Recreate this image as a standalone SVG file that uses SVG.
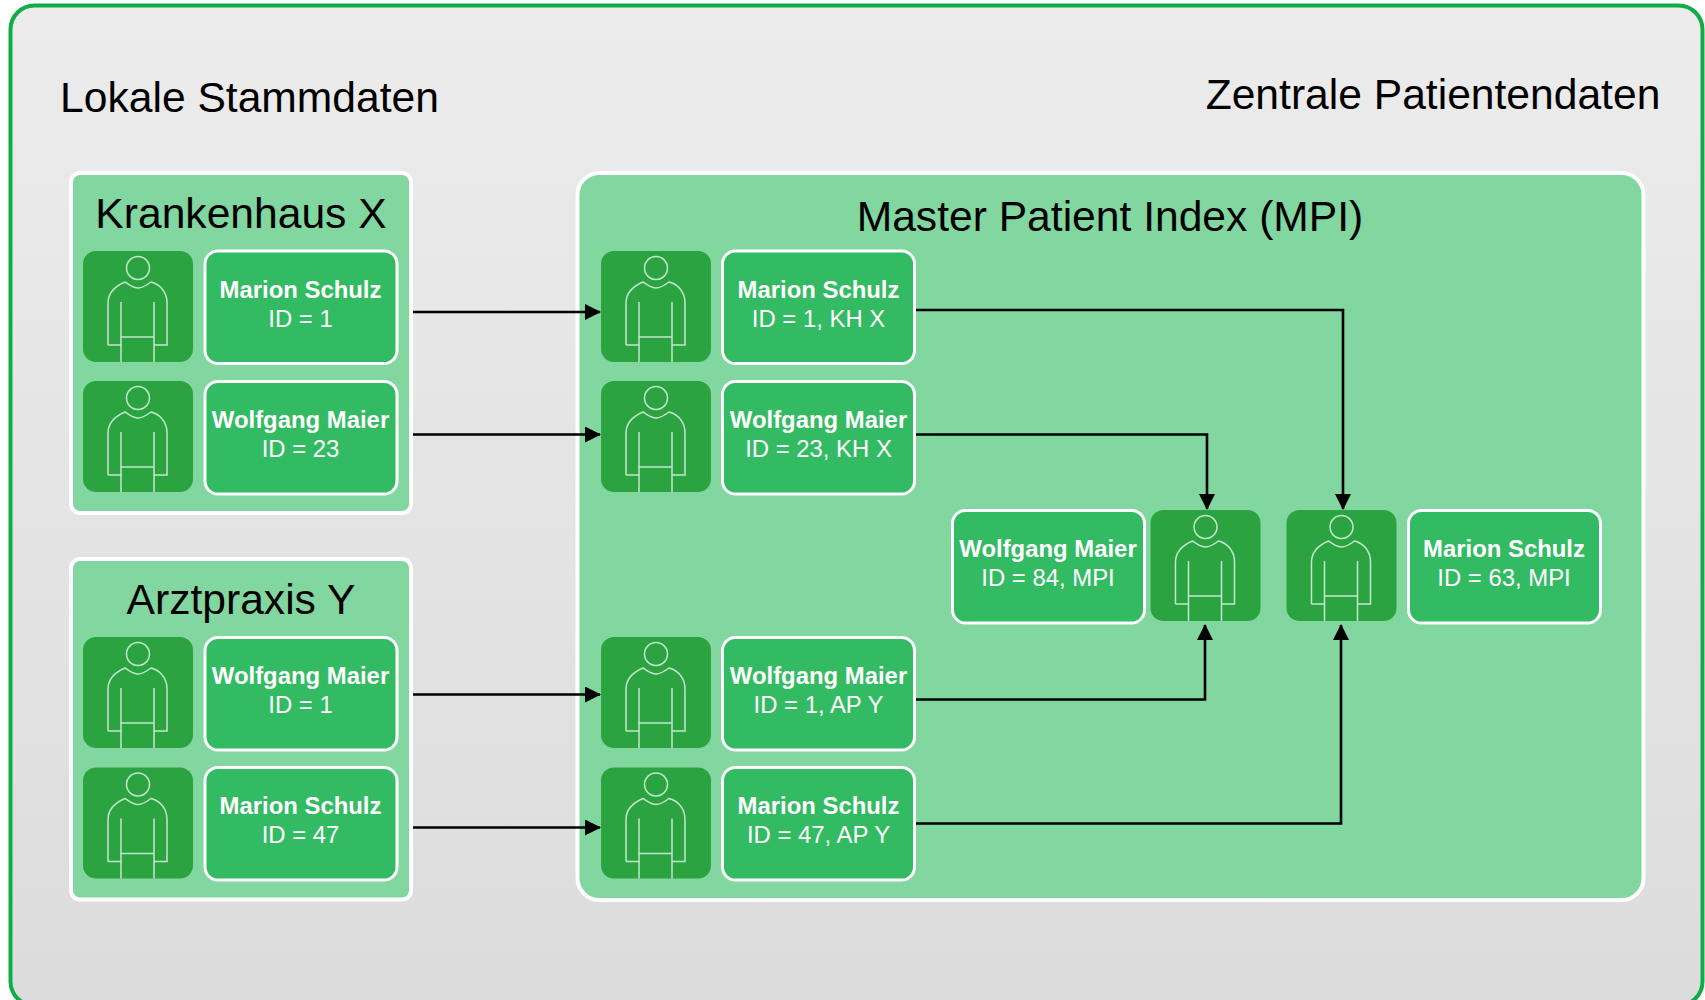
<svg xmlns="http://www.w3.org/2000/svg" xmlns:xlink="http://www.w3.org/1999/xlink" width="1705" height="1000" viewBox="0 0 1705 1000">
<style>
text{font-family:"Liberation Sans",Arial,sans-serif;text-anchor:middle}
.h{font-size:42.600px;fill:#000}
.t{font-size:23.900px;fill:#fff}
.b{font-weight:bold}
.panel{fill:#82d69f;stroke:#fff;stroke-width:4}
.lab{fill:#33bb63;stroke:#fff;stroke-width:3}
.ico{fill:#2ba340}
.pl{fill:none;stroke:#c4e8ce;stroke-width:1.500}
.c{fill:none;stroke:#000;stroke-width:2.600;marker-end:url(#a)}
</style>
<defs>
<linearGradient id="bg" x1="0" y1="0" x2="0" y2="1"><stop offset="0" stop-color="#ececec"/><stop offset="1" stop-color="#dcdcdc"/></linearGradient>
<marker id="a" markerUnits="userSpaceOnUse" markerWidth="16" markerHeight="16" refX="15" refY="8" orient="auto"><path d="M0 0L16 8L0 16z" fill="#000"/></marker>
<g id="p">
<rect class="ico" width="110" height="111" rx="13"/>
<circle class="pl" cx="55" cy="17" r="11.500"/>
<path class="pl" d="M25 94V52C25 40 35 34 42 31C47 34 50 37 55 37C60 37 64 34 68 31C76 33 84 40 84 52V94H71M25 94H38M38 51V111M71 51V111M38 86H71"/>
</g>
</defs>
<rect x="10.500" y="5.500" width="1692" height="1000" rx="24" fill="url(#bg)" stroke="#0fad48" stroke-width="4"/>
<text class="h" x="249.500" y="112">Lokale Stammdaten</text>
<text class="h" x="1433" y="109">Zentrale Patientendaten</text>
<g id="krankenhaus"><rect class="panel" x="71" y="173" width="340" height="340" rx="9"/><text class="h" x="241" y="228">Krankenhaus X</text></g>
<g id="arztpraxis"><rect class="panel" x="71" y="559" width="340" height="340.500" rx="9"/><text class="h" x="241" y="614">Arztpraxis Y</text></g>
<g id="mpi"><rect class="panel" x="577.500" y="173" width="1066" height="727" rx="22"/><text class="h" x="1110" y="231">Master Patient Index (MPI)</text></g>
<g id="n1"><use href="#p" x="83" y="251"/><rect class="lab" x="205" y="251" width="192" height="112.500" rx="13"/><text class="t b" x="300.500" y="297.500">Marion Schulz</text><text class="t" x="300.500" y="326.500">ID = 1</text></g>
<g id="n2"><use href="#p" x="83" y="381"/><rect class="lab" x="205" y="381.500" width="192" height="112.500" rx="13"/><text class="t b" x="300.500" y="427.500">Wolfgang Maier</text><text class="t" x="300.500" y="456.500">ID = 23</text></g>
<g id="n3"><use href="#p" x="83" y="637"/><rect class="lab" x="205" y="637.500" width="192" height="112.500" rx="13"/><text class="t b" x="300.500" y="683.500">Wolfgang Maier</text><text class="t" x="300.500" y="712.500">ID = 1</text></g>
<g id="n4"><use href="#p" x="83" y="767.500"/><rect class="lab" x="205" y="767.500" width="192" height="112.500" rx="13"/><text class="t b" x="300.500" y="813.500">Marion Schulz</text><text class="t" x="300.500" y="842.500">ID = 47</text></g>
<g id="n5"><use href="#p" x="601" y="251"/><rect class="lab" x="722.500" y="251" width="192" height="112.500" rx="13"/><text class="t b" x="818.500" y="297.500">Marion Schulz</text><text class="t" x="818.500" y="326.500">ID = 1, KH X</text></g>
<g id="n6"><use href="#p" x="601" y="381"/><rect class="lab" x="722.500" y="381.500" width="192" height="112.500" rx="13"/><text class="t b" x="818.500" y="427.500">Wolfgang Maier</text><text class="t" x="818.500" y="456.500">ID = 23, KH X</text></g>
<g id="n7"><use href="#p" x="601" y="637"/><rect class="lab" x="722.500" y="637.500" width="192" height="112.500" rx="13"/><text class="t b" x="818.500" y="683.500">Wolfgang Maier</text><text class="t" x="818.500" y="712.500">ID = 1, AP Y</text></g>
<g id="n8"><use href="#p" x="601" y="767.500"/><rect class="lab" x="722.500" y="767.500" width="192" height="112.500" rx="13"/><text class="t b" x="818.500" y="813.500">Marion Schulz</text><text class="t" x="818.500" y="842.500">ID = 47, AP Y</text></g>
<g id="n9"><use href="#p" x="1150.500" y="510"/><rect class="lab" x="952.500" y="510.500" width="192" height="112.500" rx="13"/><text class="t b" x="1048" y="556.500">Wolfgang Maier</text><text class="t" x="1048" y="585.500">ID = 84, MPI</text></g>
<g id="n10"><use href="#p" x="1286.500" y="510"/><rect class="lab" x="1408.500" y="510.500" width="192" height="112.500" rx="13"/><text class="t b" x="1504" y="556.500">Marion Schulz</text><text class="t" x="1504" y="585.500">ID = 63, MPI</text></g>
<g id="connectors">
<path class="c" d="M413 312H600"/>
<path class="c" d="M413 434.500H600"/>
<path class="c" d="M413 694.500H600"/>
<path class="c" d="M413 827.500H600"/>
<path class="c" d="M916 310H1343V509"/>
<path class="c" d="M916 434.500H1207V509"/>
<path class="c" d="M916 699.500H1205V625"/>
<path class="c" d="M916 823.500H1341V625"/>
</g>
</svg>
